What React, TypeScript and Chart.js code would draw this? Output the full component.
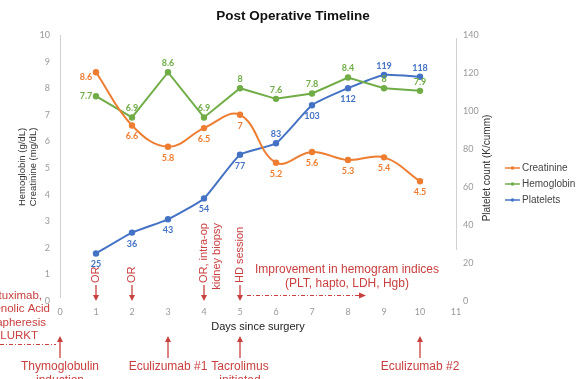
import React, { useEffect, useRef } from "react";
import { Chart, registerables } from "chart.js";

Chart.register(...registerables);

const days = [1, 2, 3, 4, 5, 6, 7, 8, 9, 10];
const creatinine = [8.6, 6.6, 5.8, 6.5, 7, 5.2, 5.6, 5.3, 5.4, 4.5];
const hemoglobin = [7.7, 6.9, 8.6, 6.9, 8, 7.6, 7.8, 8.4, 8, 7.9];
const platelets = [25, 36, 43, 54, 77, 83, 103, 112, 119, 118];

// label placement per point
const creatLabelPos = ["left", "below", "below", "below", "below", "below", "below", "below", "below", "below"];
const hgbLabelPos = ["left", "above", "above", "above", "above", "above", "above", "above", "above", "above"];
const pltLabelPos = ["below", "below", "below", "below", "below", "above", "below", "below", "above", "above"];

const eventsAbove = [
  { day: 1, lines: ["OR"] },
  { day: 2, lines: ["OR"] },
  { day: 4, lines: ["OR, intra-op", "kidney biopsy"] },
  { day: 5, lines: ["HD session"] },
];
const eventsBelow = [
  { day: 0, lines: ["Thymoglobulin", "induction"] },
  { day: 3, lines: ["Eculizumab #1"] },
  { day: 5, lines: ["Tacrolimus", "initiated"] },
  { day: 10, lines: ["Eculizumab #2"] },
];
const preOpLines = ["Rituximab,", "Mycophenolic Acid", "Plasmapheresis", "and LURKT"];
const improvementLines = ["Improvement in hemogram indices", "(PLT, hapto, LDH, Hgb)"];

const ORANGE = "#ed7d31";
const GREEN = "#70ad47";
const BLUE = "#4472c4";
const RED = "#c8403f";
const SANS = "'Liberation Sans', Arial, sans-serif";
const LABEL_FONT = "Lato, 'Open Sans', sans-serif";

function arrowDown(ctx: CanvasRenderingContext2D, x: number, y0: number, y1: number) {
  ctx.beginPath();
  ctx.moveTo(x, y0);
  ctx.lineTo(x, y1 - 5);
  ctx.stroke();
  ctx.beginPath();
  ctx.moveTo(x - 3, y1 - 6);
  ctx.lineTo(x + 3, y1 - 6);
  ctx.lineTo(x, y1);
  ctx.closePath();
  ctx.fill();
}
function arrowUp(ctx: CanvasRenderingContext2D, x: number, y0: number, y1: number) {
  ctx.beginPath();
  ctx.moveTo(x, y0);
  ctx.lineTo(x, y1 + 5);
  ctx.stroke();
  ctx.beginPath();
  ctx.moveTo(x - 3, y1 + 6);
  ctx.lineTo(x + 3, y1 + 6);
  ctx.lineTo(x, y1);
  ctx.closePath();
  ctx.fill();
}

const decorPlugin = {
  id: "decor",
  afterDraw(chart: any) {
    const ctx: CanvasRenderingContext2D = chart.ctx;
    const xs = chart.scales.x;
    const ca = chart.chartArea;
    ctx.save();

    // axis lines
    ctx.strokeStyle = "#d0d0d0";
    ctx.lineWidth = 1;
    ctx.beginPath();
    ctx.moveTo(ca.left + 0.5, ca.top);
    ctx.lineTo(ca.left + 0.5, ca.bottom - 3);
    ctx.moveTo(ca.right + 0.5, ca.top + 3);
    ctx.lineTo(ca.right + 0.5, 250);
    ctx.stroke();

    // title
    ctx.fillStyle = "#111";
    ctx.font = `bold 13.5px ${SANS}`;
    ctx.textAlign = "center";
    ctx.textBaseline = "middle";
    ctx.fillText("Post Operative Timeline", 293, 16);

    // x axis title
    ctx.font = `11px ${SANS}`;
    ctx.fillStyle = "#222";
    ctx.fillText("Days since surgery", (ca.left + ca.right) / 2, 327);

    // left axis title
    ctx.save();
    ctx.translate(22, 167);
    ctx.rotate(-Math.PI / 2);
    ctx.font = `9.5px ${SANS}`;
    ctx.fillStyle = "#333";
    ctx.fillText("Hemoglobin (g/dL)", 0, 0);
    ctx.fillText("Creatinine (mg/dL)", 0, 11);
    ctx.restore();

    // right axis title
    ctx.save();
    ctx.translate(487, 168);
    ctx.rotate(-Math.PI / 2);
    ctx.font = `10px ${SANS}`;
    ctx.fillStyle = "#333";
    ctx.fillText("Platelet count (K/cumm)", 0, 0);
    ctx.restore();

    // legend
    const legend = [
      ["Creatinine", ORANGE],
      ["Hemoglobin", GREEN],
      ["Platelets", BLUE],
    ];
    legend.forEach(([name, col], i) => {
      const y = 168 + i * 16;
      ctx.strokeStyle = col;
      ctx.fillStyle = col;
      ctx.lineWidth = 1.5;
      ctx.beginPath();
      ctx.moveTo(505, y);
      ctx.lineTo(520, y);
      ctx.stroke();
      ctx.beginPath();
      ctx.arc(512.5, y, 1.8, 0, Math.PI * 2);
      ctx.fill();
      ctx.fillStyle = "#444";
      ctx.font = `10px ${SANS}`;
      ctx.textAlign = "left";
      ctx.fillText(name, 522, y);
    });

    // data labels
    const groups = [
      { idx: 0, pos: creatLabelPos, col: ORANGE, vals: creatinine },
      { idx: 1, pos: hgbLabelPos, col: GREEN, vals: hemoglobin },
      { idx: 2, pos: pltLabelPos, col: BLUE, vals: platelets },
    ];
    ctx.font = `bold 9px ${LABEL_FONT}`;
    groups.forEach((g) => {
      const meta = chart.getDatasetMeta(g.idx);
      ctx.fillStyle = g.col;
      meta.data.forEach((pt: any, i: number) => {
        const p = g.pos[i];
        let dx = 0, dy = 0;
        if (p === "above") dy = -9;
        else if (p === "below") dy = 11;
        else if (p === "left") { dx = -10; dy = g.idx === 0 ? 5 : 0; }
        ctx.textAlign = "center";
        ctx.textBaseline = "middle";
        ctx.fillText(String(g.vals[i]), pt.x + dx, pt.y + dy);
      });
    });

    // annotations
    ctx.fillStyle = RED;
    ctx.strokeStyle = RED;
    ctx.lineWidth = 1.3;
    ctx.font = `11px ${SANS}`;
    ctx.textBaseline = "middle";
    eventsAbove.forEach((ev) => {
      const x = xs.getPixelForValue(ev.day);
      ctx.save();
      ctx.translate(x, 283);
      ctx.rotate(-Math.PI / 2);
      ctx.textAlign = "left";
      ctx.fillText(ev.lines[0], 0, 0);
      const w1 = ctx.measureText(ev.lines[0]).width;
      if (ev.lines[1]) {
        ctx.textAlign = "right";
        ctx.fillText(ev.lines[1], w1, 13);
      }
      ctx.restore();
      arrowDown(ctx, x, 285, 301);
    });

    ctx.font = `12px ${SANS}`;
    ctx.textAlign = "center";
    eventsBelow.forEach((ev) => {
      const x = xs.getPixelForValue(ev.day);
      arrowUp(ctx, x, 358, 336);
      ev.lines.forEach((ln, i) => ctx.fillText(ln, x, 367 + i * 14));
    });

    // pre-op text cut at left edge
    ctx.font = `11.5px ${SANS}`;
    ctx.textAlign = "right";
    const ends = [42, 50, 46, 38];
    preOpLines.forEach((ln, i) => ctx.fillText(ln, ends[i], 296 + i * 13.3));

    // improvement text
    ctx.textAlign = "center";
    ctx.font = `12px ${SANS}`;
    improvementLines.forEach((ln, i) => ctx.fillText(ln, 347, 270 + i * 14));

    // dash-dot lines
    ctx.lineWidth = 1;
    ctx.setLineDash([4, 2, 1, 2]);
    ctx.beginPath();
    ctx.moveTo(0, 344.5);
    ctx.lineTo(56, 344.5);
    ctx.moveTo(247, 295.5);
    ctx.lineTo(360, 295.5);
    ctx.stroke();
    ctx.setLineDash([]);
    ctx.beginPath();
    ctx.moveTo(359, 292.5);
    ctx.lineTo(366, 295.5);
    ctx.lineTo(359, 298.5);
    ctx.closePath();
    ctx.fill();

    ctx.restore();
  },
};

export default function App() {
  const ref = useRef<HTMLCanvasElement>(null);
  useEffect(() => {
    if (!ref.current) return;
    const tick = { color: "#999", font: { family: LABEL_FONT, size: 9 } };
    const chart = new Chart(ref.current, {
      type: "line",
      data: {
        datasets: [
          {
            label: "Creatinine",
            data: days.map((d, i) => ({ x: d, y: creatinine[i] })),
            borderColor: ORANGE,
            backgroundColor: ORANGE,
            borderWidth: 2,
            pointRadius: 2.2,
            tension: 0.4,
            yAxisID: "y",
          },
          {
            label: "Hemoglobin",
            data: days.map((d, i) => ({ x: d, y: hemoglobin[i] })),
            borderColor: GREEN,
            backgroundColor: GREEN,
            borderWidth: 2,
            pointRadius: 2.2,
            tension: 0,
            yAxisID: "y",
          },
          {
            label: "Platelets",
            data: days.map((d, i) => ({ x: d, y: platelets[i] })),
            borderColor: BLUE,
            backgroundColor: BLUE,
            borderWidth: 2,
            pointRadius: 2.2,
            tension: 0.15,
            yAxisID: "y1",
          },
        ],
      },
      options: {
        responsive: false,
        animation: false,
        layout: { padding: { top: 35, left: 0, right: 0, bottom: 0 } },
        plugins: { legend: { display: false }, title: { display: false }, tooltip: { enabled: false } },
        scales: {
          x: {
            type: "linear",
            min: 0,
            max: 11,
            ticks: { ...tick, stepSize: 1, padding: 6 },
            grid: { display: false, drawTicks: false },
            border: { display: false },
            afterFit: (s: any) => { s.height = 78; },
          },
          y: {
            position: "left",
            min: 0,
            max: 10,
            ticks: { ...tick, stepSize: 1, padding: 10 },
            grid: { display: false, drawTicks: false },
            border: { display: false },
            afterFit: (s: any) => { s.width = 60; },
          },
          y1: {
            position: "right",
            min: 0,
            max: 140,
            ticks: { ...tick, stepSize: 20, padding: 7 },
            grid: { display: false, drawTicks: false },
            border: { display: false },
            afterFit: (s: any) => { s.width = 124; },
          },
        },
      } as any,
      plugins: [decorPlugin],
    });
    return () => chart.destroy();
  }, []);
  return (
    <div style={{ position: "fixed", left: 0, top: 0, width: 580, height: 379, background: "#fff" }}>
      <canvas ref={ref} width={580} height={379} style={{ width: 580, height: 379, display: "block" }} />
    </div>
  );
}
